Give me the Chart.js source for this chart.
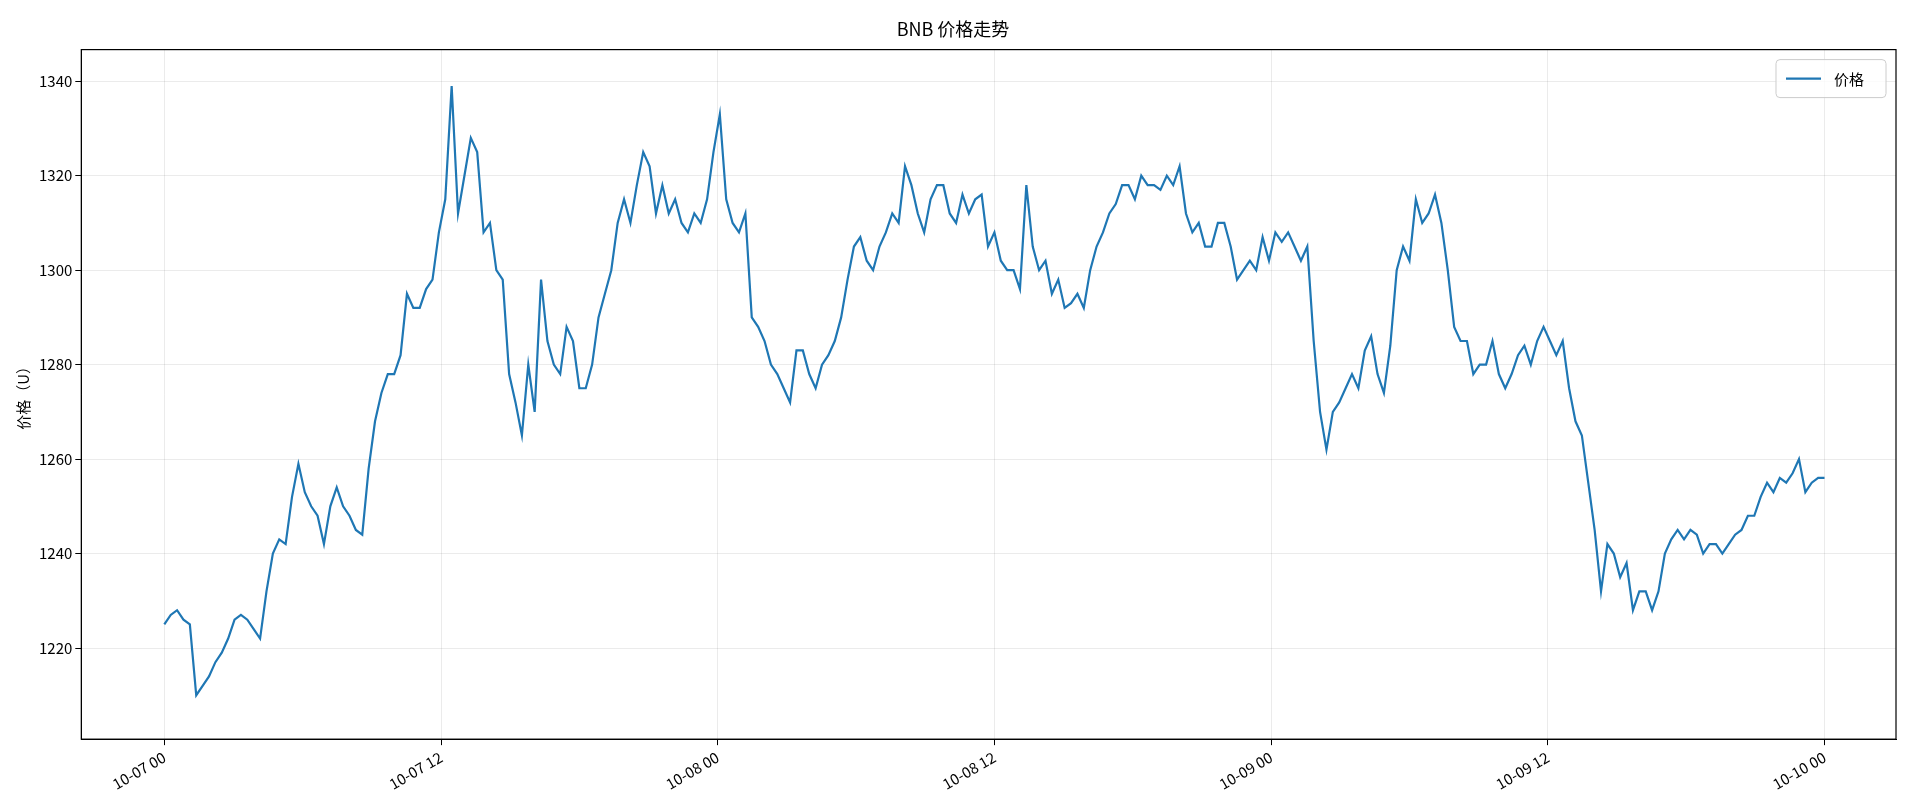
<!DOCTYPE html>
<html><head><meta charset="utf-8">
<script src="https://cdn.jsdelivr.net/npm/chart.js@4"></script>
<style>html,body{margin:0;padding:0;background:#fff}#w{width:1920px;height:800px}</style>
</head><body><div id="w"><canvas id="c"></canvas></div>
<script>
const prices = [
1225,1227,1228,1226,1225,1210,1212,1214,1217,1219,1222,1226,1227,1226,1224,1222,1232,1240,1243,1242,
1252,1259,1253,1250,1248,1242,1250,1254,1250,1248,1245,1244,1258,1268,1274,1278,1278,1282,1295,1292,
1292,1296,1298,1308,1315,1339,1312,1320,1328,1325,1308,1310,1300,1298,1278,1272,1265,1280,1270,1298,
1285,1280,1278,1288,1285,1275,1275,1280,1290,1295,1300,1310,1315,1310,1318,1325,1322,1312,1318,1312,
1315,1310,1308,1312,1310,1315,1325,1333,1315,1310,1308,1312,1290,1288,1285,1280,1278,1275,1272,1283,
1283,1278,1275,1280,1282,1285,1290,1298,1305,1307,1302,1300,1305,1308,1312,1310,1322,1318,1312,1308,
1315,1318,1318,1312,1310,1316,1312,1315,1316,1305,1308,1302,1300,1300,1296,1318,1305,1300,1302,1295,
1298,1292,1293,1295,1292,1300,1305,1308,1312,1314,1318,1318,1315,1320,1318,1318,1317,1320,1318,1322,
1312,1308,1310,1305,1305,1310,1310,1305,1298,1300,1302,1300,1307,1302,1308,1306,1308,1305,1302,1305,
1285,1270,1262,1270,1272,1275,1278,1275,1283,1286,1278,1274,1284,1300,1305,1302,1315,1310,1312,1316,
1310,1300,1288,1285,1285,1278,1280,1280,1285,1278,1275,1278,1282,1284,1280,1285,1288,1285,1282,1285,
1275,1268,1265,1255,1245,1232,1242,1240,1235,1238,1228,1232,1232,1228,1232,1240,1243,1245,1243,1245,
1244,1240,1242,1242,1240,1242,1244,1245,1248,1248,1252,1255,1253,1256,1255,1257,1260,1253,1255,1256,1256
];
const spanHours = 72;
const tickHours = [0,12,24,36,48,60,72];
const tickLabels = ["10-07 00","10-07 12","10-08 00","10-08 12","10-09 00","10-09 12","10-10 00"];
const yTicks = [1220,1240,1260,1280,1300,1320,1340];

const stepHours = spanHours/(prices.length-1);
const pts = prices.map((v,i)=>({x: i*stepHours, y: v}));
const FF = "'Noto Sans CJK SC','Noto Sans',sans-serif";
const font = {family:FF, size:15};
const boxPlugin = {id:'box', afterDraw(ch){
  const a=ch.chartArea,c=ch.ctx;c.save();
  c.strokeStyle='#000';c.lineWidth=1.2;c.strokeRect(a.left,a.top,a.right-a.left,a.bottom-a.top);
  // legend inside top-right
  const ds=ch.data.datasets[0];
  c.font='15px '+FF;
  const tw=c.measureText(ds.label).width;
  const w=tw+80,h=38,x=a.right-w-10,y=a.top+10;
  c.fillStyle='rgba(255,255,255,0.8)';c.strokeStyle='#ccc';c.lineWidth=1;
  c.beginPath();c.roundRect(x,y,w,h,4);c.fill();c.stroke();
  c.strokeStyle=ds.borderColor;c.lineWidth=2.2;c.beginPath();c.moveTo(x+10,y+h/2);c.lineTo(x+45,y+h/2);c.stroke();
  c.fillStyle='#000';c.textBaseline='middle';c.fillText(ds.label,x+58,y+h/2+1);
  c.restore();}};
new Chart(document.getElementById('c'),{
 type:'line',
 data:{datasets:[{label:'价格',data:pts,borderColor:'#1f77b4',borderWidth:2.2,pointRadius:0,tension:0}]},
 options:{responsive:true,maintainAspectRatio:false,animation:false,
  layout:{padding:{left:10,right:24,top:0,bottom:4}},
  plugins:{
   title:{display:true,text:'BNB 价格走势',color:'#000',font:{...font,size:18,weight:'normal'},padding:{top:18,bottom:10}},
   legend:{display:false},
   tooltip:{enabled:false}},
  scales:{
   x:{type:'linear',min:-3.6,max:75.1,
      afterBuildTicks(ax){ax.ticks=tickHours.map(v=>({value:v}));},
      ticks:{color:'#000',font,maxRotation:30,minRotation:30,callback:(v)=>{const i=tickHours.indexOf(v);return i>=0?tickLabels[i]:'';}},
      grid:{color:'rgba(0,0,0,0.08)',tickColor:'#000',tickLength:6},border:{color:'#000'}},
   y:{min:1200.7,max:1346.7,
      afterBuildTicks(ax){ax.ticks=yTicks.map(v=>({value:v}));},
      title:{display:true,text:'价格（U）',color:'#000',font},
      ticks:{color:'#000',font,callback:(v)=>String(v)},
      grid:{color:'rgba(0,0,0,0.08)',tickColor:'#000',tickLength:6},border:{color:'#000'}}
  }},
 plugins:[boxPlugin]
});
</script></body></html>
